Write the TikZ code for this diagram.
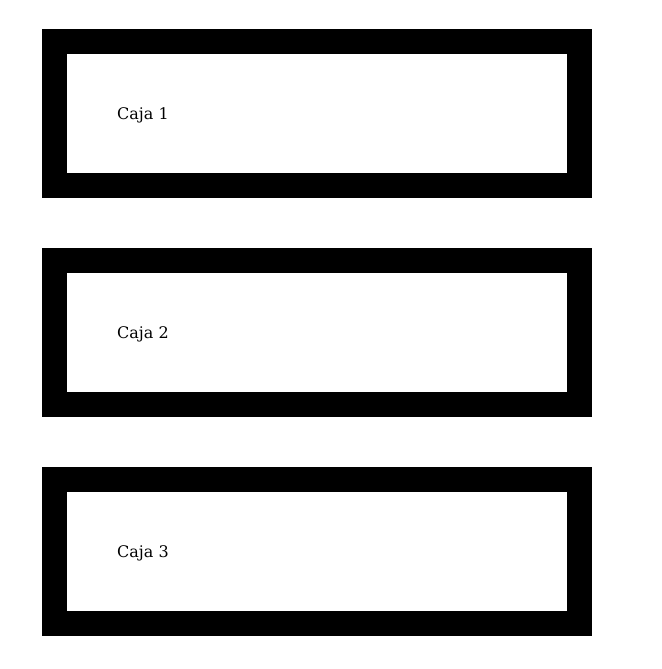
\documentclass[tikz,border=0pt]{standalone}
\usepackage{fontspec}
\setmainfont{DejaVu Serif}
\usetikzlibrary{calc}

\begin{document}
\begin{tikzpicture}[x=1pt,y=-1pt]
	\tikzstyle{caja}=[draw=black,line width=25pt,fill=white,minimum width=525pt,minimum height=144pt,inner sep=0pt]
	\tikzstyle{etiqueta}=[anchor=base west,inner sep=0pt,font=\fontsize{16pt}{19pt}\selectfont]
	\useasboundingbox (0,0) rectangle (661,669);
	
	\foreach \name/\y in {1/113.5, 2/332.5, 3/551.5}
	\node[caja] (C-\name) at (317,\y) {};
	
	\foreach \name in {1,2,3}
	\node[etiqueta] (T-\name) at ($(C-\name.west)+(75,6)$) {Caja \name};
	
	\end{tikzpicture}
\end{document}
